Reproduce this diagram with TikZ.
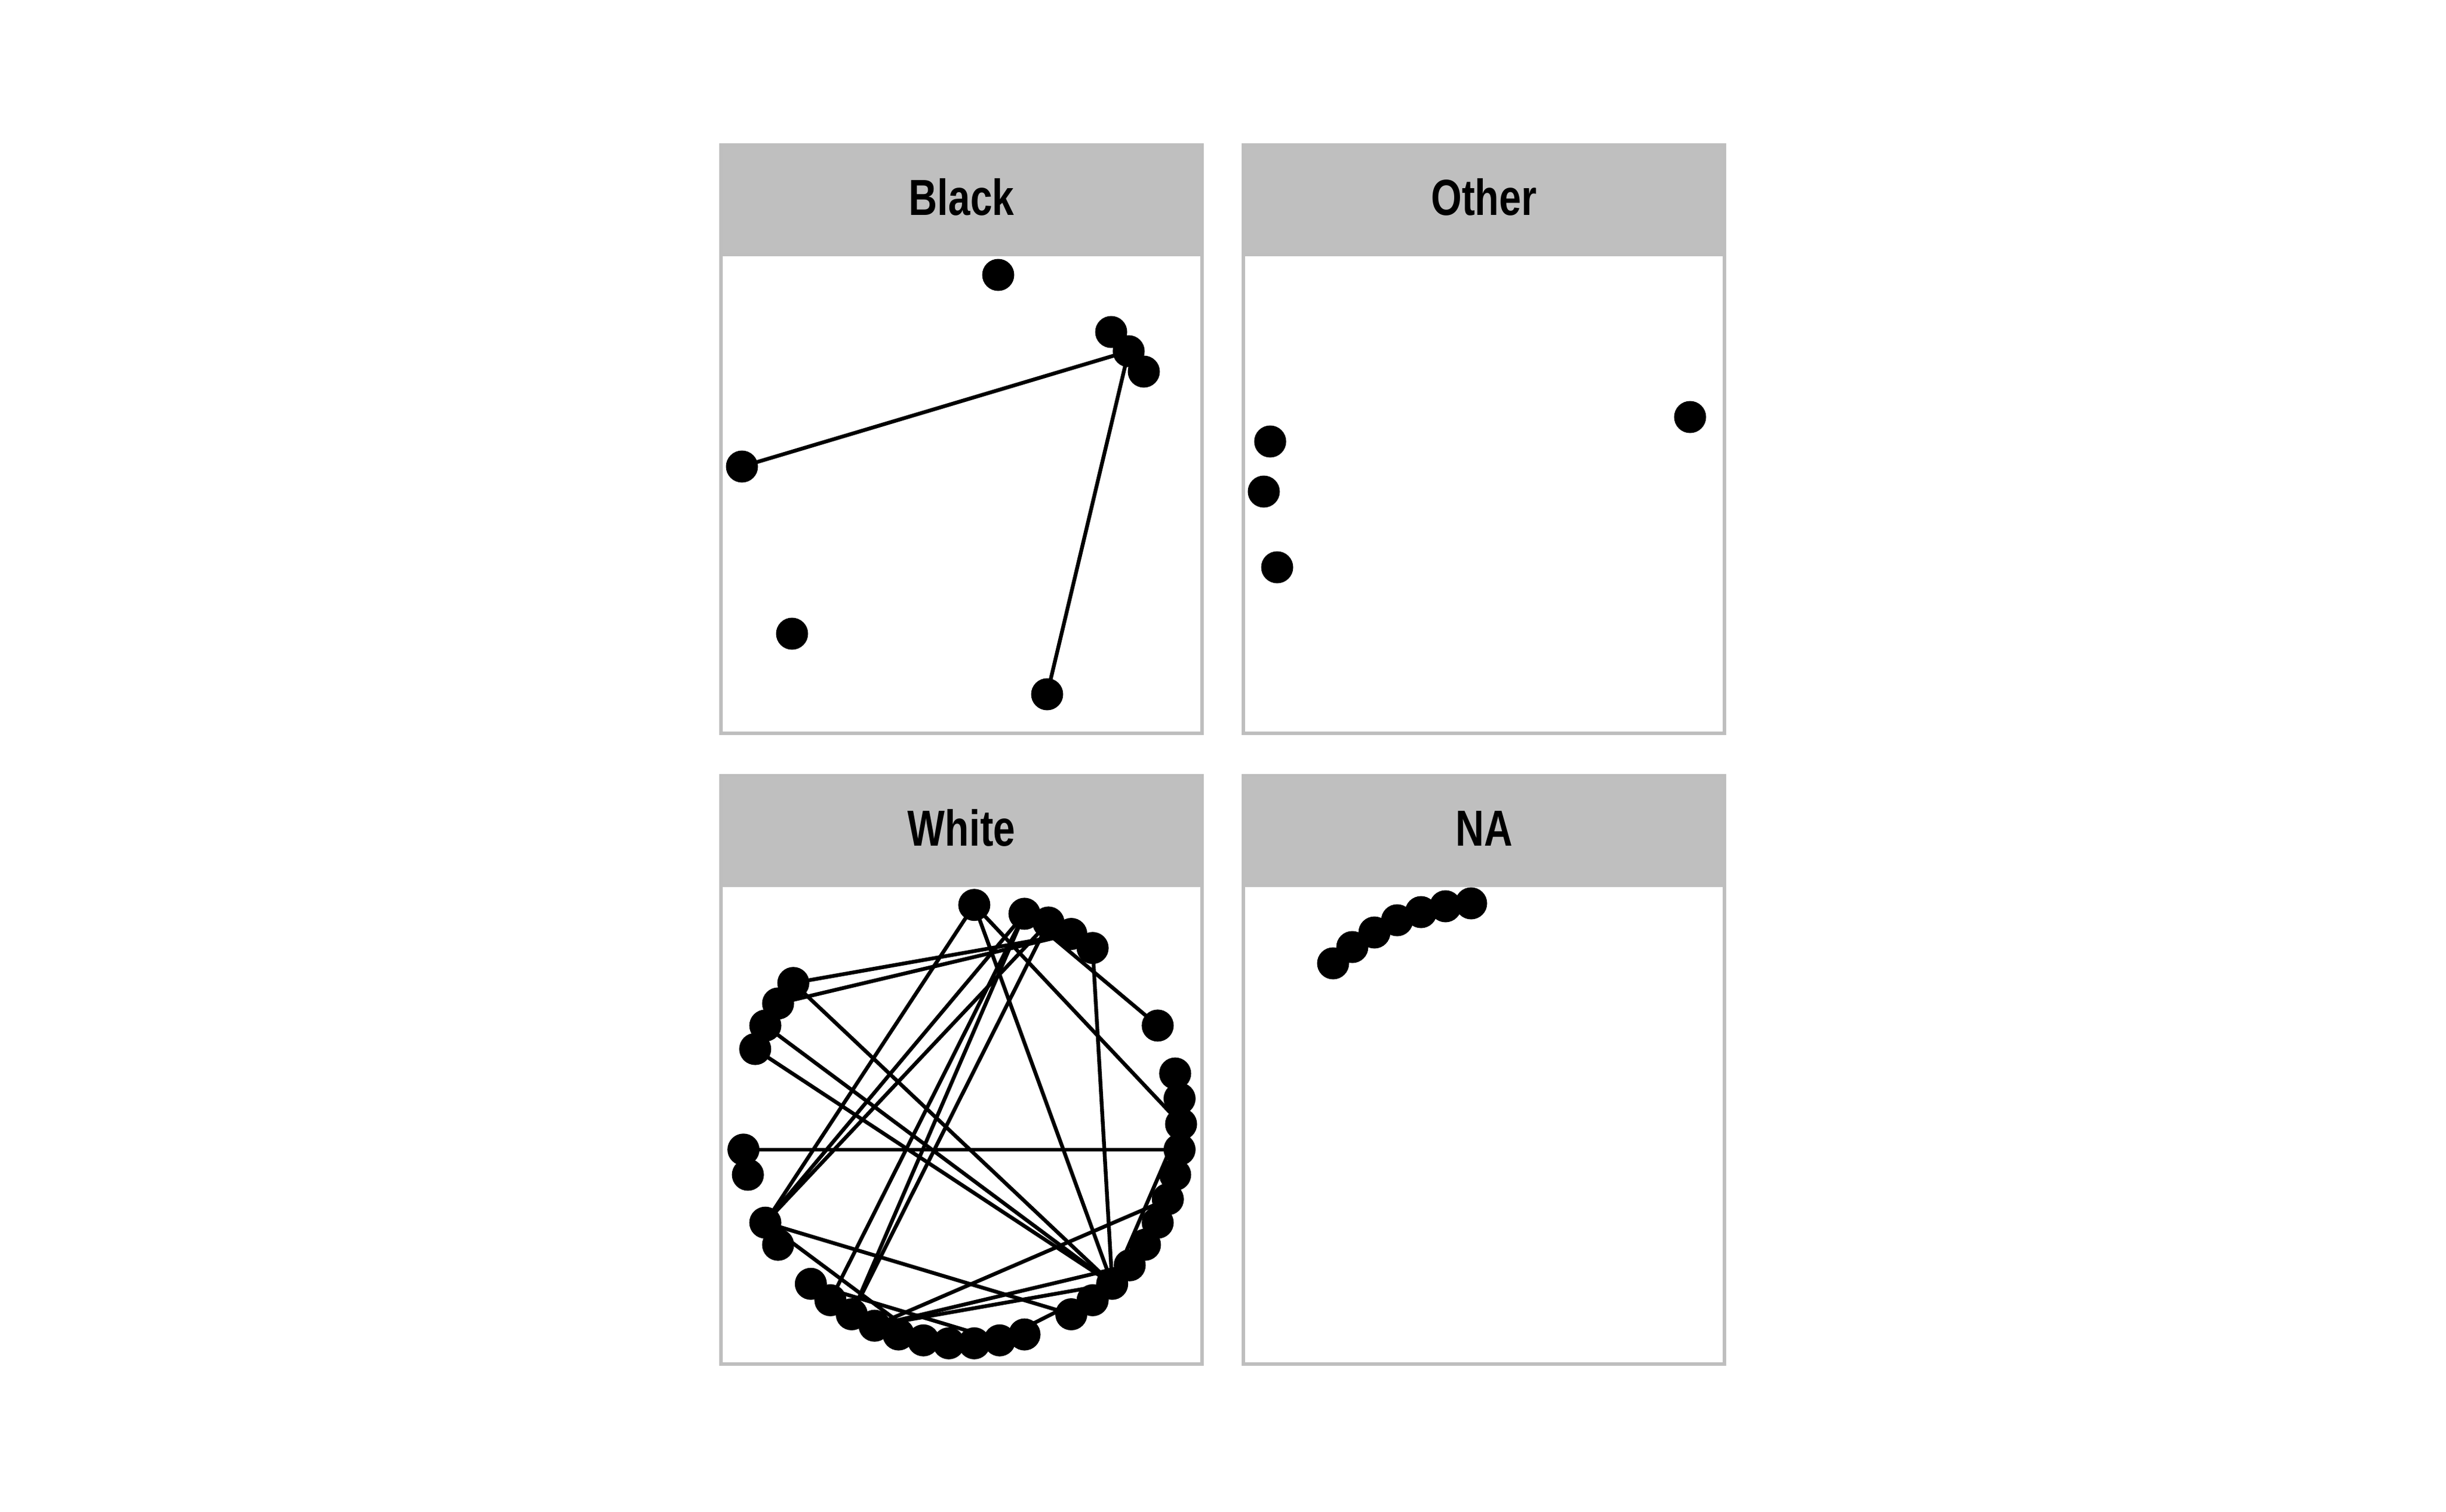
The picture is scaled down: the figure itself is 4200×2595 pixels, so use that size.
\documentclass[tikz,border=0pt]{standalone}
\usepackage{fontspec}
\setmainfont{Liberation Sans}[FakeStretch=0.78]
\usetikzlibrary{calc}
\definecolor{stripgray}{RGB}{191,191,191}
\definecolor{bordergray}{RGB}{190,190,190}
\pgfdeclarelayer{bg}
\pgfdeclarelayer{edgelayer}
\pgfsetlayers{bg,edgelayer,main}
\begin{document}
\begin{tikzpicture}[x=1pt,y=-1pt,
  nodedot/.style={circle,fill=black,draw=none,inner sep=0pt,minimum size=55pt},
  link/.style={draw=black,line width=6.5pt},
  stripfill/.style={fill=stripgray},
  plotfill/.style={fill=white},
  panelframe/.style={draw=bordergray,line width=6pt},
  striplabel/.style={font=\fontsize{87}{100}\selectfont\bfseries,anchor=base,inner sep=0pt}]

\useasboundingbox (0,0) rectangle (4200,2595);

% ---------- panels ----------
\begin{pgfonlayer}{bg}
  \fill[white] (0,0) rectangle (4200,2595);
  % Black (top left)
  \fill[stripfill] (1238,249) rectangle (2064,437);
  \fill[plotfill]  (1238,437) rectangle (2064,1259);
  \draw[panelframe] (1238,249) rectangle (2064,1259);
  \draw[panelframe] (1238,437) -- (2064,437);
  % Other (top right)
  \fill[stripfill] (2135,249) rectangle (2961,437);
  \fill[plotfill]  (2135,437) rectangle (2961,1259);
  \draw[panelframe] (2135,249) rectangle (2961,1259);
  \draw[panelframe] (2135,437) -- (2961,437);
  % White (bottom left)
  \fill[stripfill] (1238,1332) rectangle (2064,1520);
  \fill[plotfill]  (1238,1520) rectangle (2064,2342);
  \draw[panelframe] (1238,1332) rectangle (2064,2342);
  \draw[panelframe] (1238,1520) -- (2064,1520);
  % NA (bottom right)
  \fill[stripfill] (2135,1332) rectangle (2961,1520);
  \fill[plotfill]  (2135,1520) rectangle (2961,2342);
  \draw[panelframe] (2135,1332) rectangle (2961,2342);
  \draw[panelframe] (2135,1520) -- (2961,1520);
\end{pgfonlayer}

% ---------- strip labels ----------
\node[striplabel] (lblack) at (1651,369)  {Black};
\node[striplabel] (lother) at (2548,369)  {Other};
\node[striplabel] (lwhite) at (1651,1452) {White};
\node[striplabel] (lna)    at (2548,1452) {NA};

% ---------- Black panel ----------
\node[nodedot] (b1) at (1714,472) {};
\node[nodedot] (b2) at (1908,570) {};
\node[nodedot] (b3) at (1938,603) {};
\node[nodedot] (b4) at (1964,638) {};
\node[nodedot] (b5) at (1274,801) {};
\node[nodedot] (b6) at (1360,1088) {};
\node[nodedot] (b7) at (1798,1192) {};

% ---------- Other panel ----------
\node[nodedot] (o1) at (2181,758) {};
\node[nodedot] (o2) at (2170,844) {};
\node[nodedot] (o3) at (2193,974) {};
\node[nodedot] (o4) at (2902,716) {};

% ---------- NA panel ----------
\node[nodedot] (n1) at (2289,1654) {};
\node[nodedot] (n2) at (2322,1626) {};
\node[nodedot] (n3) at (2360,1601) {};
\node[nodedot] (n4) at (2399,1580) {};
\node[nodedot] (n5) at (2440,1566) {};
\node[nodedot] (n6) at (2482,1556) {};
\node[nodedot] (n7) at (2526,1551) {};

% ---------- White panel (circle layout) ----------
\coordinate (wc) at (1651,1930);
\foreach \k in {0,1,2,4,8,9,10,11,13,21,22,23,24,28,29,31,32,34,35,36,37,38,39,40,41,42,43,45,46,47,48,49,50,51,52,53}
  \node[nodedot] (w\k) at ($(wc)+(\k*6.6666667:377pt)$) {};

% ---------- edges ----------
\begin{pgfonlayer}{edgelayer}
  \draw[link] (b5.center) -- (b3.center);
  \draw[link] (b7.center) -- (b3.center);
  \foreach \a/\b in {28/53,13/31,13/47,13/0,11/31,10/31,11/35,11/36,10/36,21/9,22/9,11/4,8/47,21/47,23/47,24/47,0/47,31/45,37/51,37/48,37/47,34/42,31/39,42/47}
    \draw[link] (w\a.center) -- (w\b.center);
\end{pgfonlayer}

\end{tikzpicture}
\end{document}
